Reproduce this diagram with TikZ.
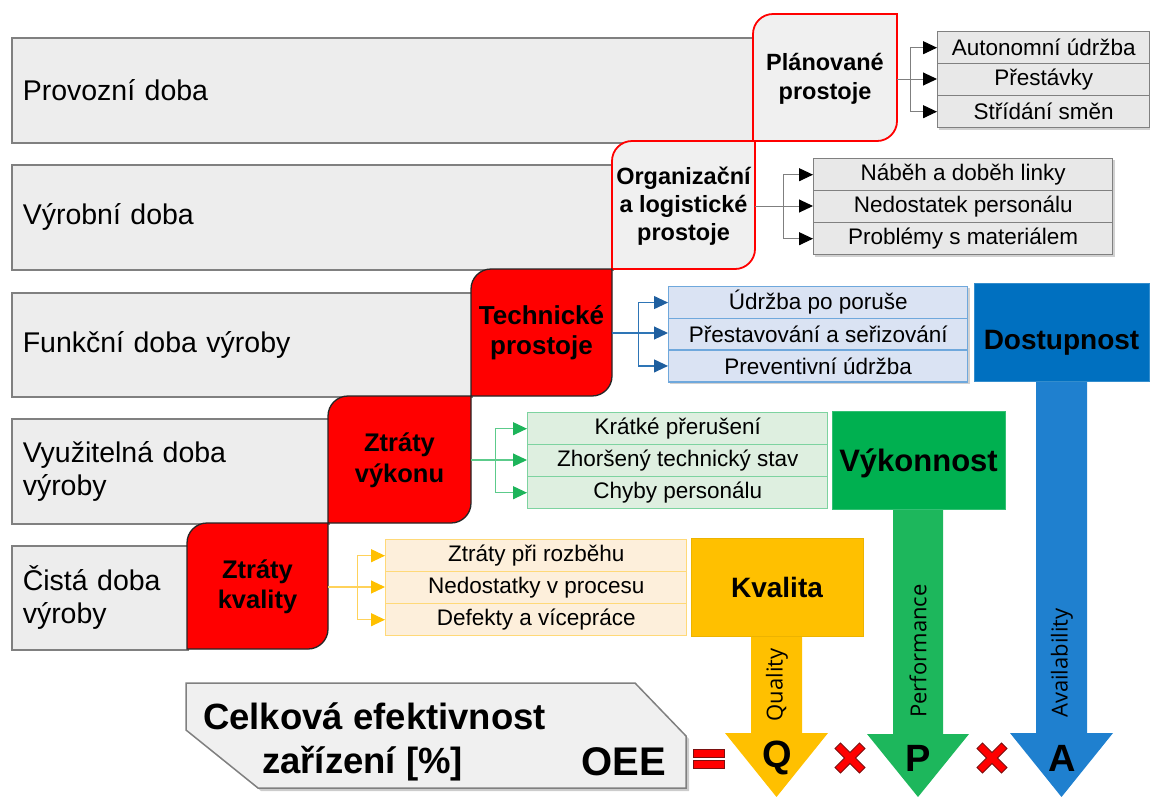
\documentclass[tikz,border=0pt]{standalone}
\usepackage{fontspec}
\setmainfont{Liberation Sans}
\newfontfamily\opensans{Open Sans}
\usetikzlibrary{arrows.meta}

\definecolor{barfill}{HTML}{EDEDED}
\definecolor{barline}{HTML}{808080}
\definecolor{lossred}{HTML}{FF0000}
\definecolor{planfill}{HTML}{F0F0F0}
\definecolor{grayfill}{HTML}{E8E8E8}
\definecolor{connGray}{HTML}{7F7F7F}
\definecolor{blueRow}{HTML}{DAE3F3}
\definecolor{blueLine}{HTML}{6FA8DC}
\definecolor{blueConn}{HTML}{2E75B6}
\definecolor{blueTip}{HTML}{1F5F9F}
\definecolor{greenRow}{HTML}{DEEFE0}
\definecolor{greenLine}{HTML}{7DD3A0}
\definecolor{greenConn}{HTML}{5CCB8B}
\definecolor{greenTip}{HTML}{1DB45A}
\definecolor{yelRow}{HTML}{FDEFDB}
\definecolor{yelLine}{HTML}{FFD978}
\definecolor{yelConn}{HTML}{FFD25A}
\definecolor{yelTip}{HTML}{FFC000}
\definecolor{availBox}{HTML}{0070C0}
\definecolor{availArrow}{HTML}{1F80CF}
\definecolor{perfBox}{HTML}{00B050}
\definecolor{perfArrow}{HTML}{1DB75C}
\definecolor{qualBox}{HTML}{FFC000}
\definecolor{qualLine}{HTML}{EDB300}
\definecolor{oeeFill}{HTML}{F0F0F0}
\definecolor{opRed}{HTML}{FF0000}
\definecolor{opDark}{HTML}{7A1010}

% rectangle rounded on the top-left and bottom-right corners (y axis points down)
\newcommand{\roundDiag}[5]{%
  \draw[#1] (#2,#5) -- (#2,#3+20) arc[start angle=180,end angle=270,radius=20]
    -- (#4,#3) -- (#4,#5-20) arc[start angle=0,end angle=90,radius=20] -- cycle;}

\tikzset{
  bar/.style={draw=barline, line width=1.5pt, fill=barfill, anchor=north west,
    inner xsep=11pt, inner ysep=0pt, align=left, font=\fontsize{28.5}{33}\selectfont},
  planshape/.style={draw=lossred, line width=1.8pt, fill=planfill},
  lossshape/.style={draw=black!85, line width=1.3pt, fill=lossred},
  losslabel/.style={inner sep=0pt, align=center, text=black},
  row/.style={rectangle, line width=1.4pt, anchor=north west, inner sep=0pt,
    font=\fontsize{22.5}{26}\selectfont},
  rowgray/.style={row, draw=barline, fill=grayfill},
  rowblue/.style={row, draw=blueLine, fill=blueRow},
  rowgreen/.style={row, draw=greenLine, fill=greenRow},
  rowyellow/.style={row, draw=yelLine, fill=yelRow},
  cgray/.style={draw=connGray, line width=1pt},
  agray/.style={cgray, -{Triangle[length=14pt,width=13pt,color=black]}},
  cblue/.style={draw=blueConn, line width=1.1pt},
  ablue/.style={cblue, -{Triangle[length=14pt,width=13pt,color=blueTip]}},
  cgreen/.style={draw=greenConn, line width=1.1pt},
  agreen/.style={cgreen, -{Triangle[length=14pt,width=13pt,color=greenTip]}},
  cyellow/.style={draw=yelConn, line width=1.1pt},
  ayellow/.style={cyellow, -{Triangle[length=14pt,width=13pt,color=yelTip]}},
  catbox/.style={rectangle, inner sep=0pt, text=black, line width=1pt,
    font=\bfseries\fontsize{28}{30}\selectfont, text depth=0pt},
  listshadow/.style={fill=black, opacity=0.18},
  engl/.style={rotate=90, inner sep=0pt, font=\opensans\fontsize{22}{24}\selectfont},
  letter/.style={inner sep=0pt, font=\bfseries\fontsize{38}{40}\selectfont},
  opx/.style={fill=opRed, draw=opDark, line width=1pt},
  oeetext/.style={inner sep=0pt, font=\bfseries\fontsize{36.5}{40}\selectfont},
}

\begin{document}
\begin{tikzpicture}[x=1pt,y=-1pt]
\useasboundingbox (0,0) rectangle (1150,796);

% time bars
\node[bar, minimum width=742pt, minimum height=105pt, text width=720pt] (b1) at (11,37) {Provozní doba};
\node[bar, minimum width=601pt, minimum height=105pt, text width=579pt] (b2) at (11,164) {Výrobní doba};
\node[bar, minimum width=460pt, minimum height=104pt, text width=438pt] (b3) at (11,292) {Funkční doba výroby};
\node[bar, minimum width=317pt, minimum height=105pt, text width=295pt] (b4) at (11,418) {Využitelná doba\\výroby};
\node[bar, minimum width=176pt, minimum height=104pt, text width=154pt] (b5) at (11,545) {Čistá doba\\výroby};

% loss boxes
\roundDiag{planshape}{612}{141}{755}{269}
\roundDiag{planshape}{753}{14}{897}{141}
\roundDiag{lossshape}{471}{269}{612}{396}
\roundDiag{lossshape}{328}{396}{471}{523}
\roundDiag{lossshape}{187}{523}{328}{649}

\node[losslabel, minimum width=144pt, minimum height=127pt, font=\bfseries\fontsize{23.5}{29}\selectfont] (plan) at (825,79) {Plánované\\prostoje};
\node[losslabel, minimum width=143pt, minimum height=128pt, font=\bfseries\fontsize{23.5}{28}\selectfont] (org) at (683.5,206) {Organizační\\a logistické\\prostoje};
\node[losslabel, minimum width=141pt, minimum height=127pt, font=\bfseries\fontsize{26}{30}\selectfont] (tech) at (541.5,333) {Technické\\prostoje};
\node[losslabel, minimum width=143pt, minimum height=127pt, font=\bfseries\fontsize{25.5}{31}\selectfont] (vyk) at (399.5,460) {Ztráty\\výkonu};
\node[losslabel, minimum width=141pt, minimum height=126pt, font=\bfseries\fontsize{25.5}{30}\selectfont] (kval) at (257.5,587) {Ztráty\\kvality};

% cause lists
\fill[listshadow] (939,33) rectangle (1152,130);
\node[rowgray, minimum width=212pt, minimum height=32pt] (pa1) at (937,31) {Autonomní údržba};
\node[rowgray, minimum width=212pt, minimum height=32pt] (pa2) at (937,63) {Přestávky};
\node[rowgray, minimum width=212pt, minimum height=32pt] (pa3) at (937,95) {Střídání směn};

\fill[listshadow] (815,160) rectangle (1115,257);
\node[rowgray, minimum width=299pt, minimum height=32pt] (oa1) at (813,158) {Náběh a doběh linky};
\node[rowgray, minimum width=299pt, minimum height=32pt] (oa2) at (813,190) {Nedostatek personálu};
\node[rowgray, minimum width=299pt, minimum height=32pt] (oa3) at (813,222) {Problémy s materiálem};

\fill[listshadow] (670,288) rectangle (970,384);
\node[rowblue, minimum width=299pt, minimum height=31.7pt] (ta1) at (668,286) {Údržba po poruše};
\node[rowblue, minimum width=299pt, minimum height=31.7pt] (ta2) at (668,317.7) {Přestavování a seřizování};
\node[rowblue, minimum width=299pt, minimum height=31.7pt] (ta3) at (668,349.4) {Preventivní údržba};

\node[rowgreen, minimum width=300pt, minimum height=32pt] (va1) at (527,412) {Krátké přerušení};
\node[rowgreen, minimum width=300pt, minimum height=32pt] (va2) at (527,444) {Zhoršený technický stav};
\node[rowgreen, minimum width=300pt, minimum height=32pt] (va3) at (527,476) {Chyby personálu};

\node[rowyellow, minimum width=301pt, minimum height=32pt] (ka1) at (385,539) {Ztráty při rozběhu};
\node[rowyellow, minimum width=301pt, minimum height=32pt] (ka2) at (385,571) {Nedostatky v procesu};
\node[rowyellow, minimum width=301pt, minimum height=32pt] (ka3) at (385,603) {Defekty a vícepráce};

% branching connectors
\path (plan.east) ++(13,0) coordinate (fk1);
\draw[agray] (plan.east) -- (plan.east -| pa2.west);
\draw[agray] (fk1) |- (pa1.west);
\draw[agray] (fk1) |- (pa3.west);

\path (org.east) ++(28,0) coordinate (fk2);
\draw[agray] (org.east) -- (org.east -| oa2.west);
\draw[agray] (fk2) |- (oa1.west);
\draw[agray] (fk2) |- (oa3.west);

\path (tech.east) ++(26,0) coordinate (fk3);
\draw[ablue] (tech.east) -- (tech.east -| ta2.west);
\draw[ablue] (fk3) |- (ta1.west);
\draw[ablue] (fk3) |- (ta3.west);

\path (vyk.east) ++(24,0) coordinate (fk4);
\draw[agreen] (vyk.east) -- (vyk.east -| va2.west);
\draw[agreen] (fk4) |- (va1.west);
\draw[agreen] (fk4) |- (va3.west);

\path (kval.east) ++(29,0) coordinate (fk5);
\draw[ayellow] (kval.east) -- (kval.east -| ka2.west);
\draw[ayellow] (fk5) |- (ka1.west);
\draw[ayellow] (fk5) |- (ka3.west);

% factor arrows
\fill[qualBox] (751,636) -- (802,636) -- (802,733) -- (828,733) -- (776.5,797) -- (725,733) -- (751,733) -- cycle;
\fill[perfArrow] (893,509) -- (943,509) -- (943,734) -- (969,734) -- (918,797) -- (867,734) -- (893,734) -- cycle;
\fill[availArrow] (1036,381) -- (1087,381) -- (1087,733) -- (1113,733) -- (1061.5,797) -- (1010,733) -- (1036,733) -- cycle;

% factor boxes
\node[catbox, fill=availBox, draw=availBox!80!white, minimum width=175pt, minimum height=98pt, text height=33pt] (avail) at (1061.5,332.5) {Dostupnost};
\node[catbox, fill=perfBox, draw=perfBox!80!white, minimum width=173pt, minimum height=98pt, text height=22pt, font=\bfseries\fontsize{31}{33}\selectfont] (perf) at (918.5,460) {Výkonnost};
\node[catbox, fill=qualBox, draw=qualLine, minimum width=172pt, minimum height=98pt, text height=20pt] (qual) at (777,587) {Kvalita};

\node[engl] (qlab) at (777,685) {Quality};
\node[engl] (plab) at (918,651) {Performance};
\node[engl] (alab) at (1062,663) {Availability};

\node[letter] (qq) at (777,758) {Q};
\node[letter] (pp) at (918,758) {P};
\node[letter] (aa) at (1062,758) {A};

% equals and multiplication signs
\filldraw[opx] (693,749) rectangle (724,757);
\filldraw[opx] (693,760) rectangle (724,768);
\foreach \cx in {850,992} {
  \begin{scope}[shift={(\cx,758)}]
    \filldraw[opx] (-15,-9.5) -- (-9.5,-15) -- (0,-5.5) -- (9.5,-15) -- (15,-9.5) -- (5.5,0)
      -- (15,9.5) -- (9.5,15) -- (0,5.5) -- (-9.5,15) -- (-15,9.5) -- (-5.5,0) -- cycle;
  \end{scope}
}

% OEE label plate
\fill[black, opacity=0.2] (189,686) -- (638,686) -- (689,739) -- (689,791) -- (261,791) -- (189,733) -- cycle;
\filldraw[fill=oeeFill, draw=barline, line width=1.5pt] (186,683) -- (635,683) -- (686,736) -- (686,788) -- (258,788) -- (186,730) -- cycle;
\node[oeetext, anchor=west] (oeet1) at (203,716) {Celková efektivnost};
\node[oeetext, anchor=west] (oeet2) at (262,764) {zařízení [\%]};
\node[oeetext, anchor=east, font=\bfseries\fontsize{40}{42}\selectfont] (oee) at (666,762) {OEE};
\end{tikzpicture}
\end{document}
